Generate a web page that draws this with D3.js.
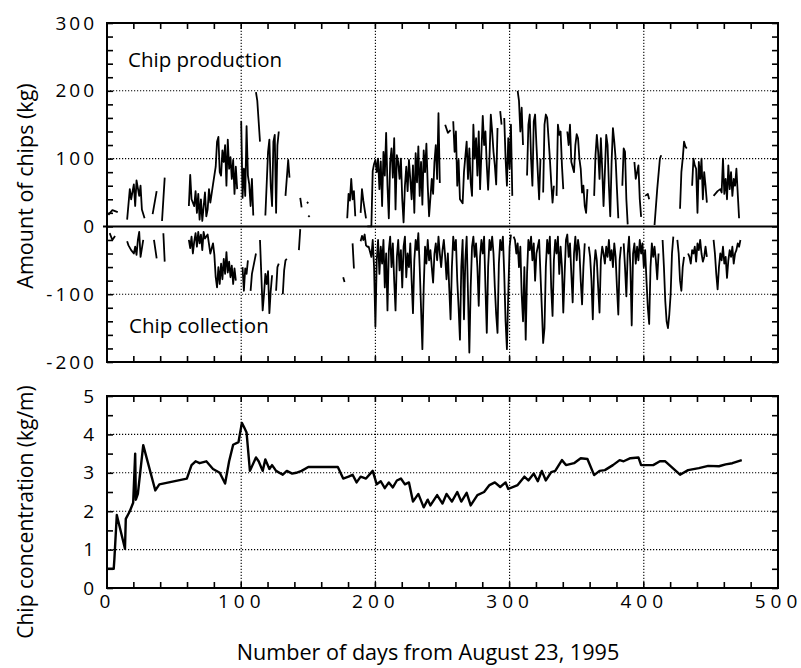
<!DOCTYPE html>
<html>
<head>
<meta charset="utf-8">
<script src="https://cdn.jsdelivr.net/npm/d3@7"></script>
<style>
  body { margin: 0; background: #fff; }
  text { font-family: "Open Sans", sans-serif; fill: #000; }
</style>
</head>
<body>
<div id="chart"></div>
<script>
// chip production (kg), [day, kg], null = no data
var production = [
  [1,17],[4,24],[8,21], null,
  [15,10],[17,55],[18,40],[20,62],[21,30],[22,68],[24,45],[25,60],[26,25],[28,12], null,
  [34,18],[37,52], null,
  [41,8],[43,72], null,
  [61,30],[62,76],[63,40],[65,30],[66,52],[67,20],[68,48],[69,10],[70,40],[71,8],[73,50],[74,15],[75,25],[76,55],[77,35],[79,62],
  [81,88],[82,125],[83,132],[84,80],[85,75],[86,112],[87,95],[88,120],[89,60],[90,128],[91,85],[92,102],[93,70],[94,98],[95,48],[96,88],[97,55], null,
  [100,155],[101,42],[102,85],[103,45],[104,148],[105,75],[106,62],[107,30],[108,70],[109,16], null,
  [111,198],[112,185],[114,125], null,
  [118,16],[120,110],[121,128],[122,60],[123,30],[124,125],[125,135],[126,20],[127,120],[128,140], null,
  [133,45],[135,98],[136,72], null,
  [144,42],[145,28], null,
  [149,36],[150,34], null,
  [150,16],[151,14], null,
  [179,12],[180,48],[181,38],[182,70],[183,40],[184,52],[185,15], null,
  [189,20],[190,55],[191,38],[193,12], null,
  [194,0],[197,0],[198,82],[199,92],[200,98],[201,80],[202,100],[203,55],[204,96],[205,30],[206,110],[207,75],[208,138],[209,60],[210,12],
  [211,95],[212,115],[213,72],[214,130],[215,25],[216,105],[217,95],[218,70],[219,100],[220,40],[221,6],[222,60],[223,88],[224,52],[225,98],
  [226,70],[227,40],[228,90],[229,20],[230,108],[231,65],[232,118],[233,45],[234,95],[235,32],[236,112],[237,80],[238,122],[239,60],[240,15],
  [242,70],[243,48],[244,95],[245,120],[246,70],[247,167],[248,64], null,
  [252,150],[254,138],[256,142], null,
  [258,155],[259,110],[260,140],[261,60],[262,98],[263,40],[265,34],[266,80],[268,125],[269,70],[270,115],[271,65],[272,45],[273,150],
  [274,100],[275,130],[276,75],[277,140],[278,55],[280,163],[281,120],[282,140],[283,90],[284,54],[285,100],[286,165],[287,140],[288,110],
  [289,90],[290,62],[291,145], null,
  [293,170],[294,150], null,
  [296,160],[297,100],[298,60],[299,130],[300,85],[301,150],[302,45], null,
  [306,200],[307,185],[308,140],[309,175],[310,120], null,
  [313,75],[314,150],[315,165],[316,100],[317,60],[318,155],[319,165],[320,120],[321,80],[322,40],[323,100], null,
  [325,50],[326,150],[327,165],[328,160],[329,130],[330,100],[331,65],[332,35],[333,60], null,
  [335,45],[336,150],[337,135],[338,140],[339,90],[340,55], null,
  [343,140],[344,120],[345,150],[346,95],[348,80],[349,120],[350,136],[351,130],[352,100],[353,85],[354,50],[355,60],[356,30],[357,20],[358,55], null,
  [363,45],[364,105],[365,135],[366,110],[367,70],[368,130],[369,85],[370,30],[371,80],[372,135],[373,120],[374,60],[375,15],[376,95],
  [377,145],[378,125],[379,100],[380,55],[381,12], null,
  [384,60],[385,115],[386,110],[387,40],[388,3], null,
  [393,95],[394,70],[396,90],[397,40],[398,14], null,
  [401,45],[403,48],[404,40], null,
  [408,2],[410,55],[412,100],[413,105], null,
  [427,26],[428,80],[429,100],[430,125],[431,118],[432,115], null,
  [436,60],[437,100],[438,90],[439,85],[440,20],[441,95],[442,70],[443,100],[444,40],[445,80],[446,60],[447,35], null,
  [452,45],[455,52],[457,55],[458,50],[459,100],[460,48],[461,70],[462,40],[463,90],[464,55],[465,80],[466,45],[467,70],[468,60],[469,85],[471,12]
];

// chip collection (kg, negative), [day, kg]
var collection = [
  [2,-10],[4,-20],[6,-14], null,
  [15,-22],[16,-28],[18,-35],[20,-40],[21,-30],[22,-42],[23,-20],[24,-8],[25,-45],[27,-20], null,
  [35,-20],[37,-47], null,
  [42,-10],[43,-52], null,
  [61,-20],[62,-32],[63,-15],[64,-40],[65,-22],[66,-10],[67,-30],[68,-8],[69,-25],[70,-12],[71,-35],[72,-8],[73,-18],[75,-12],[77,-40],
  [79,-25],[80,-42],[81,-75],[82,-90],[83,-60],[84,-85],[85,-55],[86,-78],[87,-48],[88,-70],[89,-38],[90,-68],[91,-52],[92,-75],
  [93,-58],[94,-85],[95,-62],[96,-80], null,
  [101,-60],[102,-95],[103,-62],[104,-70],[105,-50], null,
  [107,-95],[108,-70],[110,-50],[111,-40], null,
  [114,-20],[116,-124],[117,-100],[118,-70],[119,-85],[120,-66],[121,-128],[122,-95],[123,-72], null,
  [126,-95],[127,-60],[128,-55], null,
  [131,-100],[132,-65],[133,-50],[134,-48], null,
  [143,-35],[144,-4], null,
  [176,-75],[177,-82], null,
  [183,-25],[184,-62], null,
  [189,-22],[190,-14],[191,-20],[192,-12],[193,-28],[194,-30],
  [195,-30],[197,-45],[198,-20],[199,-60],[200,-148],[201,-50],[202,-20],[203,-70],[204,-30],[205,-55],[206,-20],[207,-90],[208,-40],
  [209,-124],[210,-35],[211,-15],[212,-60],[213,-25],[214,-80],[215,-124],[216,-45],[217,-20],[218,-65],[219,-35],[220,-90],[221,-30],
  [222,-15],[223,-75],[224,-40],[225,-60],[226,-25],[227,-80],[228,-128],[229,-50],[230,-20],[231,-35],[232,-10],[233,-60],[234,-120],
  [235,-181],[236,-90],[237,-30],[238,-55],[239,-20],[240,-50],[241,-35],[242,-60],[243,-83],[244,-40],[245,-25],[246,-50],[247,-15],
  [248,-40],[249,-60],[250,-35],[251,-20],[252,-45],[253,-78],[254,-40],[255,-90],[256,-137],[257,-60],[258,-15],[259,-35],[260,-20],
  [261,-80],[262,-120],[263,-167],[264,-60],[265,-20],[266,-137],[267,-50],[268,-15],[269,-100],[270,-186],[271,-90],[272,-30],[273,-15],
  [274,-45],[275,-25],[276,-60],[277,-117],[278,-45],[279,-20],[280,-40],[281,-15],[282,-90],[283,-157],[284,-60],[285,-20],[286,-35],
  [287,-15],[288,-40],[289,-90],[290,-130],[291,-157],[292,-55],[293,-20],[294,-35],[295,-15],[296,-70],[297,-140],[298,-181],[299,-100],
  [300,-30],[301,-12], null,
  [303,-15],[304,-20],[305,-40],[306,-25],[307,-60],[308,-30],[309,-100],[310,-140],[311,-60],[312,-167],[313,-70],[314,-20],[315,-35],
  [316,-15],[317,-50],[318,-25],[319,-80],[320,-40],[321,-30],[322,-20],[323,-70],[324,-120],[325,-172],[326,-150],[327,-60],[328,-20],
  [329,-40],[330,-15],[331,-90],[332,-132],[333,-50],[334,-20],[335,-40],[336,-15],[337,-70],[338,-30],[339,-60],[340,-127],[341,-70],
  [342,-20],[343,-12],[344,-45],[345,-25],[346,-70],[347,-112],[348,-40],[349,-15],[350,-50],[351,-20],[352,-35],[353,-80],[354,-115],
  [355,-60],[356,-25], null,
  [359,-30],[360,-45],[361,-80],[362,-137],[363,-60],[364,-35],[365,-50],[366,-90],[367,-127],[368,-50],[369,-30],[370,-40],[371,-55],
  [372,-30],[373,-45],[374,-20],[375,-50],[376,-35],[377,-60],[378,-25],[379,-45],[380,-90],[381,-130],[382,-50],[383,-30], null,
  [385,-25],[386,-60],[387,-103],[388,-40],[389,-15],[390,-60],[391,-146],[392,-40],[393,-25],[394,-55],[395,-30],[396,-50],[397,-20],
  [398,-40],[399,-25],[400,-60],[401,-35],[402,-80],[403,-120],[404,-144],[405,-60],[406,-25],[407,-45],[408,-30],[409,-50],[410,-78],[411,-40], null,
  [414,-20],[415,-60],[416,-110],[417,-140],[418,-150],[419,-130],[420,-100],[421,-40],[422,-15], null,
  [425,-20],[426,-40],[427,-80],[428,-95],[429,-60],[430,-45], null,
  [433,-40],[434,-45],[435,-55],[436,-35],[437,-40],[438,-30],[439,-52],[440,-25],[441,-35],[442,-20],[443,-40],[444,-52],[445,-45],[446,-30],[447,-45], null,
  [452,-20],[453,-40],[454,-70],[455,-93],[456,-60],[457,-40],[458,-50],[459,-30],[460,-55],[461,-45],[462,-76],[463,-50],[464,-35],
  [465,-45],[466,-30],[467,-55],[468,-40],[469,-35],[470,-25],[471,-30],[472,-20]
];

// chip concentration (kg/m)
var concDays = [0,5,5.5,7.3,13.4,14,17,19.5,21,21.5,23,27,36,39,59.5,63,66,69,74,79,84,88,91,94,98,100.5,102,104,106.5,
  111,113,116,118,121,123,126,131,134,138,141,145,150,172,176,180,183,186,189,193,198,201,204,207,210,213,216,219,222,225,
  228,232,236,239,241,246,250,253,257,261,264,268,271,276,281,285,289,293,297,299,306,311,314,318,321,324,327,331,334,339,
  342,348,353,358,363,367,371,377,382,385,390,396,398,403,407,412,416,427,433,441,448,456,461,466,473];
var concVals = [0.5,0.5,0.75,1.9,1.02,1.8,2.0,2.22,3.5,2.3,2.45,3.72,2.54,2.7,2.85,3.2,3.3,3.25,3.3,3.1,3.0,2.72,3.3,3.73,3.8,4.3,4.2,4.05,3.05,
  3.4,3.3,3.05,3.35,3.1,3.2,3.05,2.95,3.05,2.98,3.0,3.05,3.15,3.15,2.85,2.9,2.95,2.75,2.9,2.85,3.05,2.7,2.78,2.6,2.75,2.62,2.8,2.85,2.7,2.75,
  2.25,2.45,2.1,2.3,2.15,2.42,2.2,2.45,2.25,2.5,2.25,2.48,2.15,2.42,2.5,2.68,2.75,2.63,2.75,2.58,2.68,2.9,2.8,2.98,2.78,3.05,2.8,3.02,3.05,3.33,
  3.2,3.25,3.38,3.36,2.94,3.05,3.07,3.2,3.33,3.3,3.38,3.4,3.2,3.2,3.2,3.3,3.3,2.95,3.07,3.12,3.18,3.17,3.22,3.25,3.33];

var topTicks = [-200,-100,0,100,200,300];
var botTicks = [0,1,2,3,4,5];
var dayTicks = [0,100,200,300,400,500];

var W = 801, H = 668;
var svg = d3.select("#chart").append("svg").attr("width", W).attr("height", H);

var x = d3.scaleLinear().domain([0, 500]).range([107, 778]);
var yTop = d3.scaleLinear().domain([-200, 300]).range([362, 23]);
var yBot = d3.scaleLinear().domain([0, 5]).range([588, 396]);

function grid(g, y, hVals) {
  g.selectAll(".gv").data([100, 200, 300, 400]).enter().append("line")
    .attr("x1", x).attr("x2", x).attr("y1", y.range()[0]).attr("y2", y.range()[1])
    .attr("stroke", "#000").attr("stroke-width", 1.1).attr("stroke-dasharray", "1.2,1.8");
  g.selectAll(".gh").data(hVals).enter().append("line")
    .attr("x1", x(0)).attr("x2", x(500)).attr("y1", y).attr("y2", y)
    .attr("stroke", "#000").attr("stroke-width", 1.1).attr("stroke-dasharray", "1.2,1.8");
}

function frame(g, y, yMinor, yFmt, showX) {
  var xMinor = d3.range(0, 501, 20);
  var y0 = y.range()[0], y1 = y.range()[1];
  if (showX) {
    g.append("g").attr("class", "xlab").attr("transform", "translate(0," + y0 + ")")
      .call(d3.axisBottom(x).tickValues(dayTicks).tickSize(0).tickPadding(6).tickFormat(d3.format("d")))
      .call(function(a) { a.select(".domain").remove(); });
  }
  [y0, y1].forEach(function(yy) {
    g.selectAll(null).data(xMinor.slice(1, -1)).enter().append("line")
      .attr("x1", x).attr("x2", x).attr("y1", yy).attr("y2", yy === y0 ? yy - 6 : yy + 6)
      .attr("stroke", "#000").attr("stroke-width", 1.6);
  });
  g.append("g").attr("transform", "translate(" + x(0) + ",0)")
    .call(d3.axisLeft(y).tickValues(yMinor).tickSize(-6).tickPadding(10).tickFormat(yFmt))
    .call(function(a) { a.select(".domain").remove(); a.selectAll("line").attr("stroke-width", 1.6); });
  g.append("g").attr("transform", "translate(" + x(500) + ",0)")
    .call(d3.axisRight(y).tickValues(yMinor).tickSize(-6).tickFormat(""))
    .call(function(a) { a.select(".domain").remove(); a.selectAll("line").attr("stroke-width", 1.6); });
  g.append("rect").attr("x", x(0)).attr("y", y1).attr("width", x(500) - x(0)).attr("height", y0 - y1)
    .attr("fill", "none").attr("stroke", "#000").attr("stroke-width", 2);
  g.selectAll(".tick text").style("font-size", "19px").style("letter-spacing", "3px");
  g.selectAll(".xlab .tick text").style("letter-spacing", "5px");
}

// top panel
var topG = svg.append("g");
grid(topG, yTop, [-100, 100, 200]);
topG.append("line").attr("x1", x(0) - 4).attr("x2", x(500)).attr("y1", yTop(0)).attr("y2", yTop(0))
  .attr("stroke", "#000").attr("stroke-width", 2);

var lineTop = d3.line().defined(function(d) { return d !== null; })
  .x(function(d) { return x(d[0]); }).y(function(d) { return yTop(d[1]); });
topG.append("path").datum(production).attr("d", lineTop)
  .attr("fill", "none").attr("stroke", "#000").attr("stroke-width", 1.8).attr("stroke-linejoin", "round");
topG.append("path").datum(collection).attr("d", lineTop)
  .attr("fill", "none").attr("stroke", "#000").attr("stroke-width", 1.8).attr("stroke-linejoin", "round");

frame(topG, yTop, d3.range(-200, 301, 20), function(d) { return topTicks.indexOf(d) > -1 ? d : ""; }, false);

topG.append("text").attr("x", 128).attr("y", 67).style("font-size", "20.5px").text("Chip production");
topG.append("text").attr("x", 129).attr("y", 333).style("font-size", "20.5px").text("Chip collection");

// bottom panel
var botG = svg.append("g");
grid(botG, yBot, [1, 2, 3, 4]);
var lineBot = d3.line().x(function(d, i) { return x(concDays[i]); }).y(function(d) { return yBot(d); });
botG.append("path").datum(concVals).attr("d", lineBot)
  .attr("fill", "none").attr("stroke", "#000").attr("stroke-width", 2.4).attr("stroke-linejoin", "round");

frame(botG, yBot, d3.range(0, 5.01, 0.5), function(d) { return botTicks.indexOf(d) > -1 ? d : ""; }, true);

// axis titles
svg.append("text").attr("transform", "translate(33,186) rotate(-90)").attr("text-anchor", "middle")
  .style("font-size", "21.5px").text("Amount of chips (kg)");
svg.append("text").attr("transform", "translate(33,512) rotate(-90)").attr("text-anchor", "middle")
  .style("font-size", "21px").text("Chip concentration (kg/m)");
svg.append("text").attr("x", 428).attr("y", 660).attr("text-anchor", "middle")
  .style("font-size", "21.6px").text("Number of days from August 23, 1995");
</script>
</body>
</html>
